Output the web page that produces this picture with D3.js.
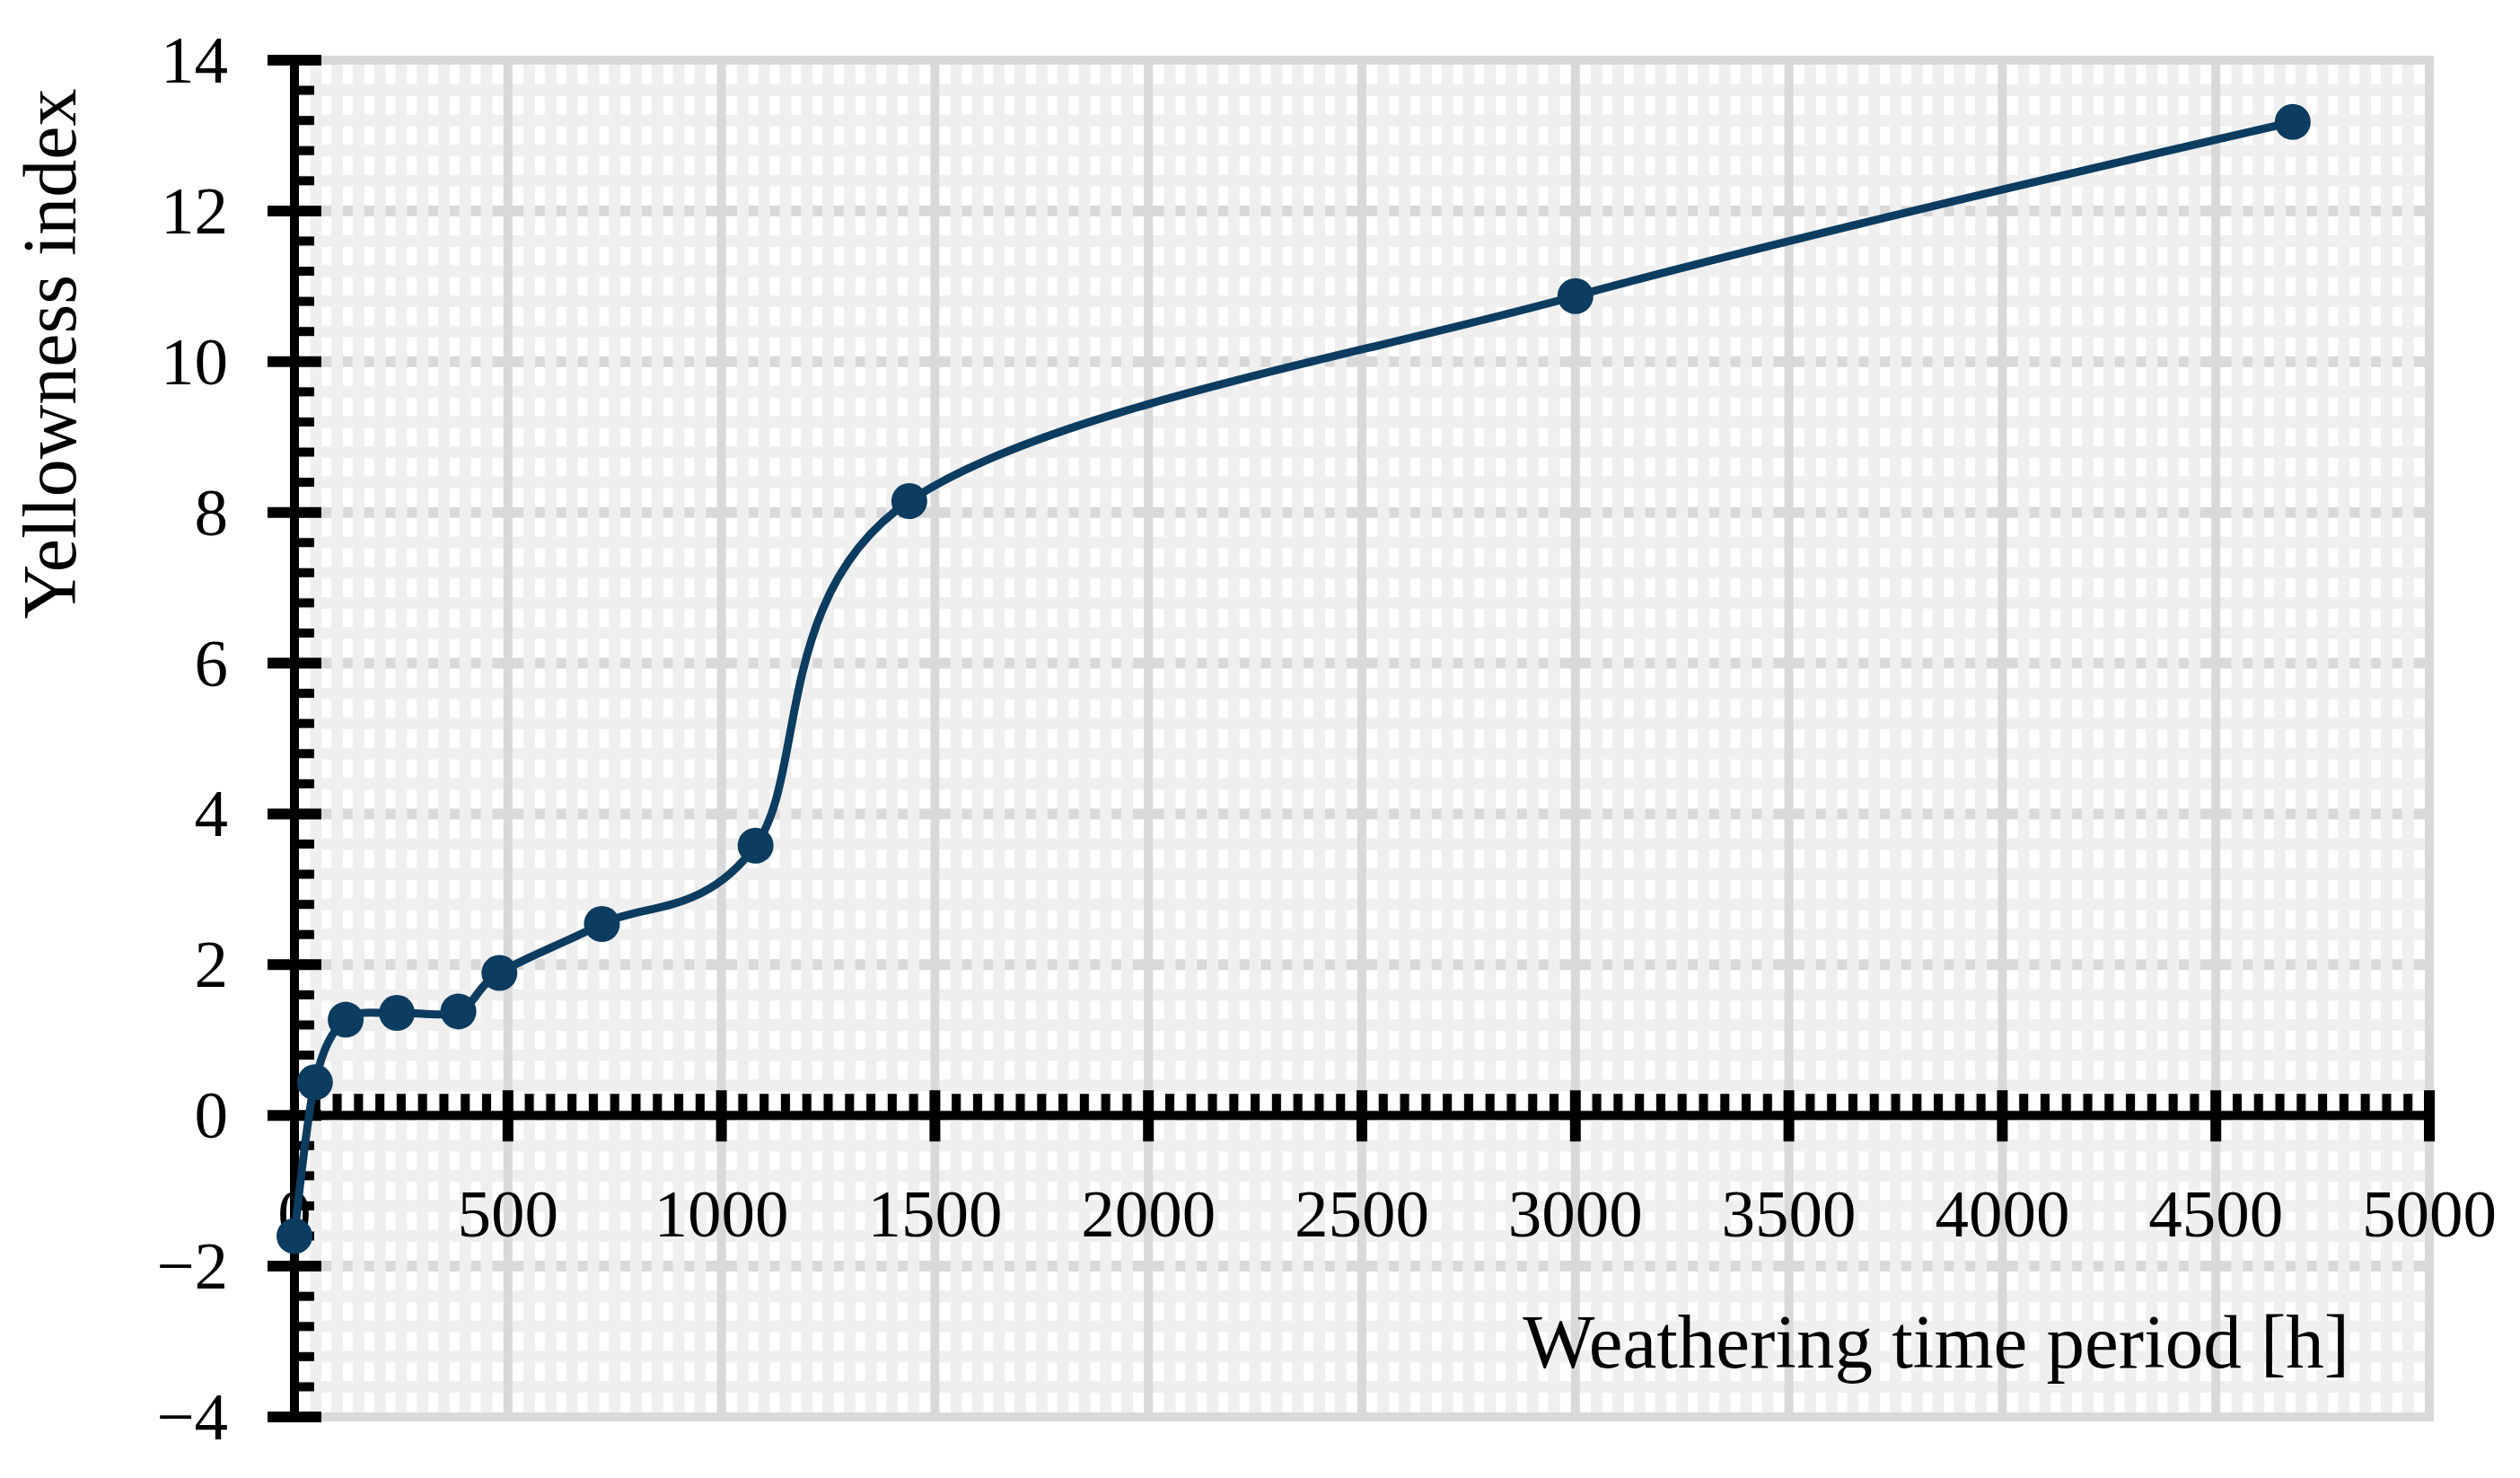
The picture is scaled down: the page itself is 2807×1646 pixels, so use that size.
<!DOCTYPE html>
<html><head><meta charset="utf-8">
<script src="https://cdn.jsdelivr.net/npm/d3@7"></script>
<style>html,body{margin:0;padding:0;background:#fff;} svg{display:block;}</style>
</head><body>
<script>
// ---- data ----
const hours = [0, 48, 120, 240, 384, 480, 720, 1080, 1440, 3000, 4680];
const yellowness = [-1.6, 0.44, 1.27, 1.36, 1.38, 1.89, 2.54, 3.58, 8.15, 10.87, 13.18];
const xTicks = [0, 500, 1000, 1500, 2000, 2500, 3000, 3500, 4000, 4500, 5000];
const xTickLabels = ["0", "500", "1000", "1500", "2000", "2500", "3000", "3500", "4000", "4500", "5000"];
const yTicks = [-4, -2, 0, 2, 4, 6, 8, 10, 12, 14];
const yTickLabels = ["\u22124", "\u22122", "0", "2", "4", "6", "8", "10", "12", "14"];
const xTitle = "Weathering time period [h]";
const yTitle = "Yellowness index";

// ---- layout ----
const W = 2807, H = 1646;
const L = 328, R = 2706, T = 67, B = 1578;
const lineColor = "#0c3c60";
const font = "'Liberation Serif', 'Times New Roman', serif";

const x = d3.scaleLinear().domain([0, 5000]).range([L, R]);
const y = d3.scaleLinear().domain([-4, 14]).range([B, T]);

const svg = d3.select("body").append("svg").attr("width", W).attr("height", H);

// plot background
svg.append("rect").attr("x", L).attr("y", T).attr("width", R - L).attr("height", B - T).attr("fill", "#fff");

const xMinor = d3.range(0, 5001, 50);
const yMinor = d3.range(-4, 14.0001, 0.4).map(v => +v.toFixed(1));
const isMajorY = v => Math.abs(v / 2 - Math.round(v / 2)) < 1e-6;
const isMajorX = v => v % 500 === 0;

const grid = svg.append("g");
// minor horizontal bands
grid.selectAll(".hmin").data(yMinor.filter(v => !isMajorY(v))).join("line")
  .attr("x1", L).attr("x2", R).attr("y1", d => y(d)).attr("y2", d => y(d))
  .attr("stroke", "#efefef").attr("stroke-width", 13);
// major horizontal lines
grid.selectAll(".hmaj").data(yTicks.slice(1, -1)).join("line")
  .attr("x1", L).attr("x2", R).attr("y1", d => y(d)).attr("y2", d => y(d))
  .attr("stroke", "#d9d9d9").attr("stroke-width", 12);
// minor vertical bands
grid.selectAll(".vmin").data(xMinor.filter(v => !isMajorX(v))).join("line")
  .attr("y1", T).attr("y2", B).attr("x1", d => x(d)).attr("x2", d => x(d))
  .attr("stroke", "#efefef").attr("stroke-width", 13);
// major vertical lines
grid.selectAll(".vmaj").data(xTicks.slice(1)).join("line")
  .attr("y1", T).attr("y2", B).attr("x1", d => x(d)).attr("x2", d => x(d))
  .attr("stroke", "#d9d9d9").attr("stroke-width", 10);
// border
grid.append("rect").attr("x", L).attr("y", T).attr("width", R - L).attr("height", B - T)
  .attr("fill", "none").attr("stroke", "#d9d9d9").attr("stroke-width", 10);

// ---- axes ----
const ax = svg.append("g");
// y axis
ax.append("line").attr("x1", L).attr("x2", L).attr("y1", T - 6).attr("y2", B + 6)
  .attr("stroke", "#000").attr("stroke-width", 10);
ax.selectAll(".ymin").data(yMinor.filter(v => !isMajorY(v))).join("line")
  .attr("x1", L).attr("x2", L + 22).attr("y1", d => y(d)).attr("y2", d => y(d))
  .attr("stroke", "#000").attr("stroke-width", 10);
ax.selectAll(".ymaj").data(yTicks).join("line")
  .attr("x1", L - 30).attr("x2", L + 30).attr("y1", d => y(d)).attr("y2", d => y(d))
  .attr("stroke", "#000").attr("stroke-width", 12);
// x axis at y = 0
const y0 = y(0);
ax.append("line").attr("x1", L).attr("x2", R + 6).attr("y1", y0).attr("y2", y0)
  .attr("stroke", "#000").attr("stroke-width", 10);
ax.selectAll(".xmin").data(xMinor.filter(v => !isMajorX(v))).join("line")
  .attr("x1", d => x(d)).attr("x2", d => x(d)).attr("y1", y0).attr("y2", y0 - 24)
  .attr("stroke", "#000").attr("stroke-width", 10);
ax.selectAll(".xmaj").data(xTicks.slice(1)).join("line")
  .attr("x1", d => x(d)).attr("x2", d => x(d)).attr("y1", y0 - 28).attr("y2", y0 + 29)
  .attr("stroke", "#000").attr("stroke-width", 12);

// tick labels
svg.append("g").selectAll("text").data(yTicks).join("text")
  .attr("x", 254).attr("y", d => y(d) + 25)
  .attr("text-anchor", "end").attr("font-family", font).attr("font-size", 75).attr("fill", "#000")
  .text((d, i) => yTickLabels[i]);
svg.append("g").selectAll("text").data(xTicks).join("text")
  .attr("x", d => x(d)).attr("y", 1377)
  .attr("text-anchor", "middle").attr("font-family", font).attr("font-size", 75).attr("fill", "#000")
  .text((d, i) => xTickLabels[i]);

// titles
svg.append("text").attr("x", 2617).attr("y", 1523).attr("text-anchor", "end")
  .attr("font-family", font).attr("font-size", 85).attr("fill", "#000").text(xTitle);
svg.append("text").attr("transform", "translate(84,394) rotate(-90)").attr("text-anchor", "middle")
  .attr("font-family", font).attr("font-size", 84).attr("fill", "#000").text(yTitle);

// ---- series ----
const pts = hours.map((h, i) => [h, yellowness[i]]);
const line = d3.line().x(d => x(d[0])).y(d => y(d[1])).curve(d3.curveCardinal.tension(0));
svg.append("path").attr("d", line(pts)).attr("fill", "none")
  .attr("stroke", lineColor).attr("stroke-width", 9).attr("stroke-linejoin", "round");
svg.append("g").selectAll("circle").data(pts).join("circle")
  .attr("cx", d => x(d[0])).attr("cy", d => y(d[1])).attr("r", 20).attr("fill", lineColor);
</script>
</body></html>
